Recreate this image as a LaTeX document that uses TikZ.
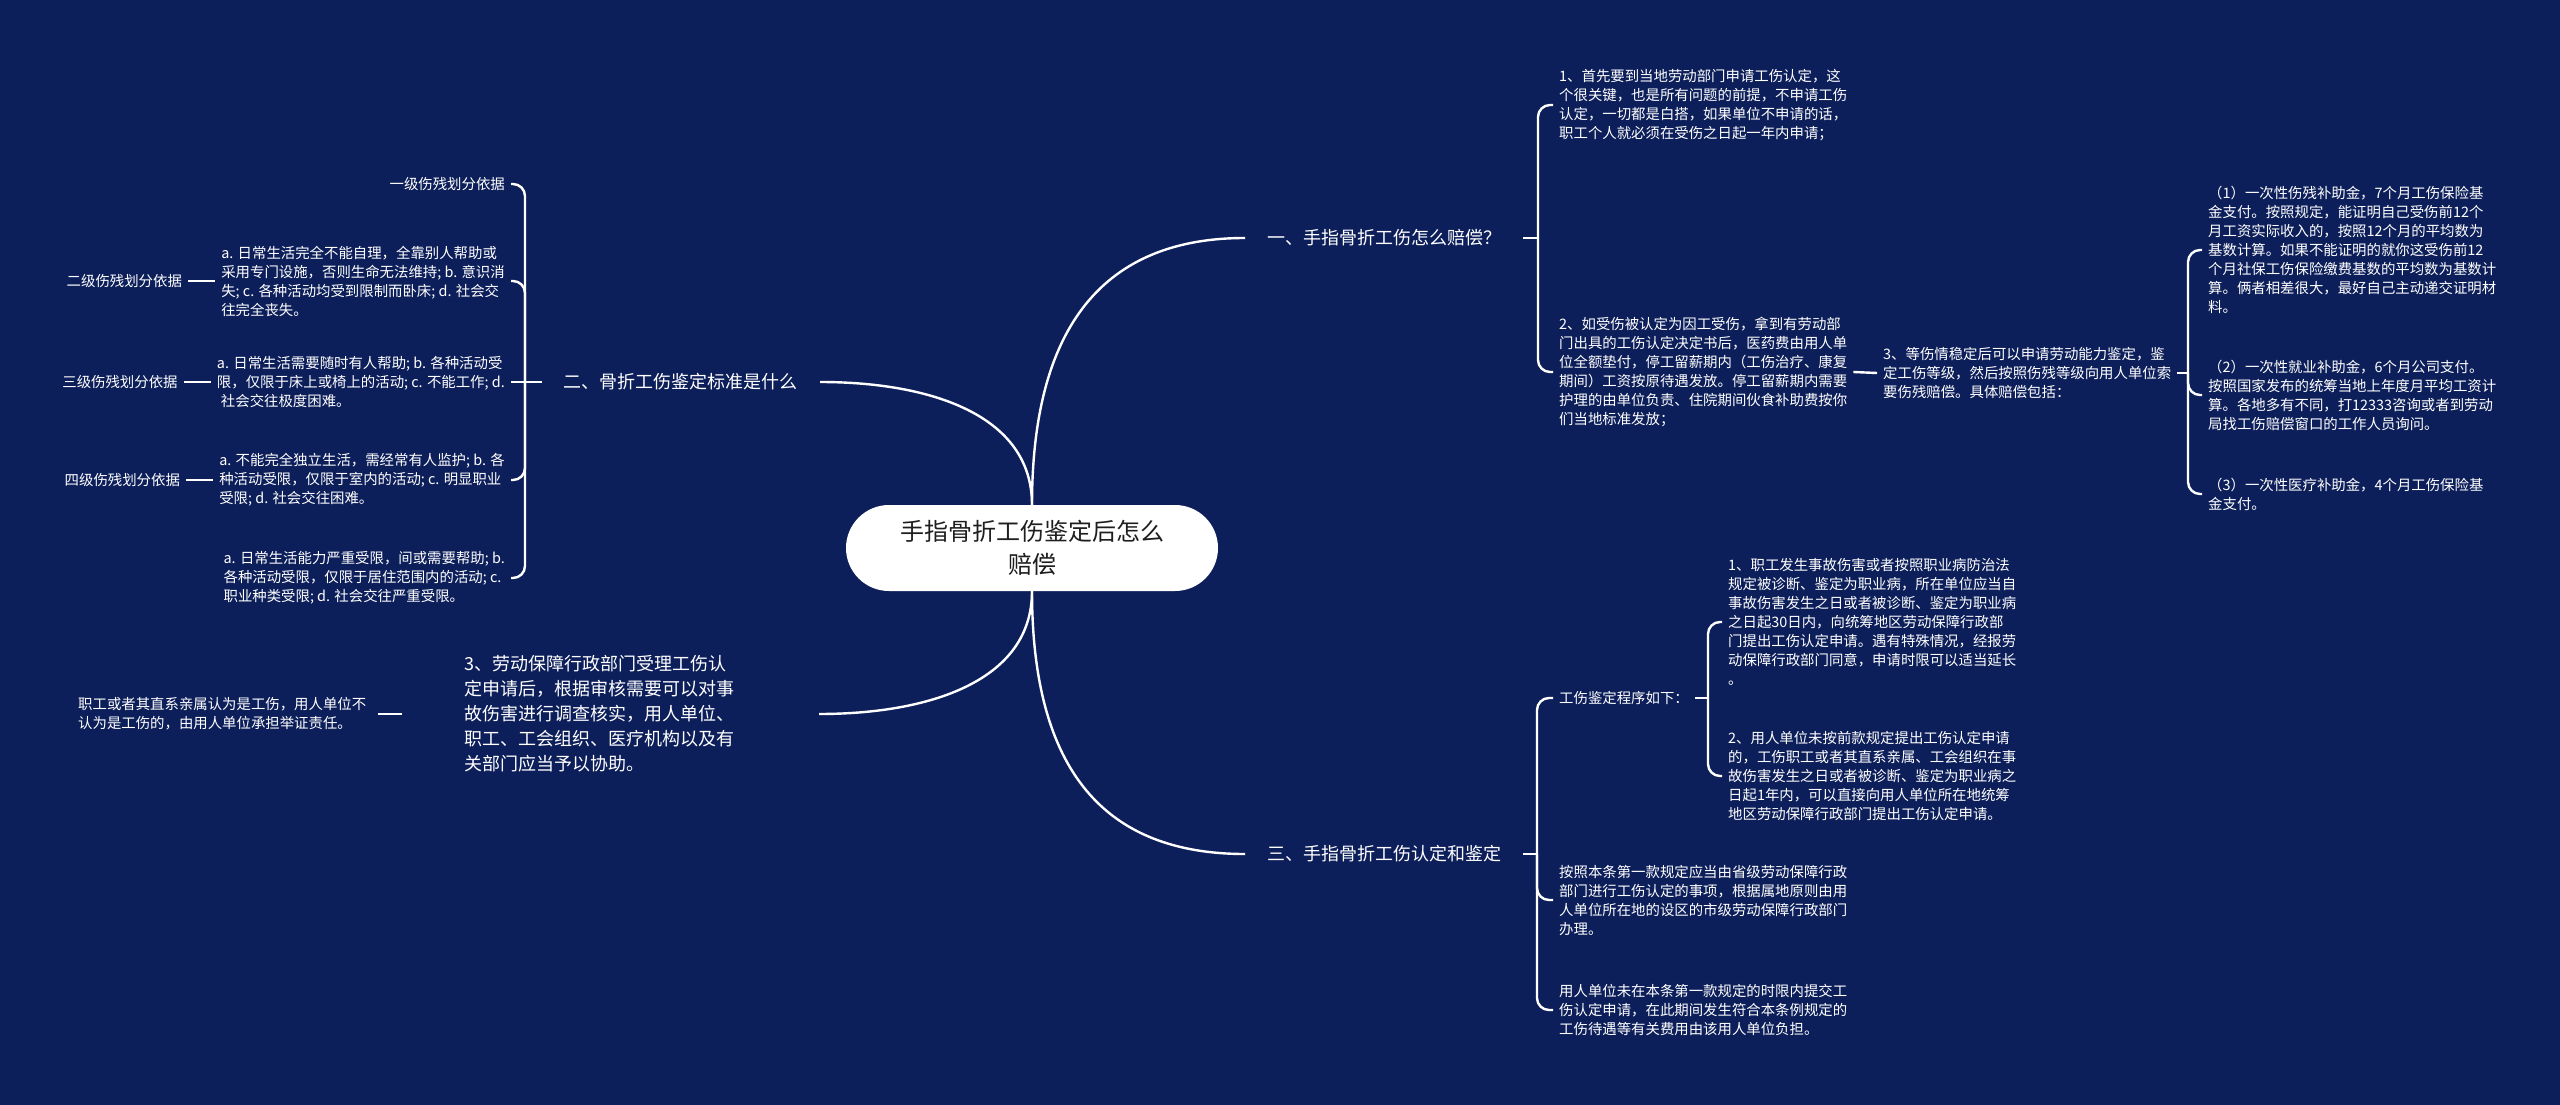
\documentclass[tikz,border=0pt]{standalone}
\usepackage{fontspec}
\setmainfont{Noto Sans CJK SC}
\usetikzlibrary{calc}
\definecolor{bg}{RGB}{13,31,90}
\definecolor{ctext}{RGB}{30,30,30}
\begin{document}
\begin{tikzpicture}[x=1pt,y=-1pt,
  line/.style={draw=white, line width=2.4pt},
  brk/.style={draw=white, line width=2.4pt, rounded corners=12pt},
  small/.style={text=white, font=\fontsize{14.4}{19}\selectfont, align=left, inner xsep=6pt, inner ysep=2pt},
  lab/.style={text=white, font=\fontsize{18}{25}\selectfont, align=left, inner xsep=22pt, inner ysep=3pt},
  root/.style={fill=white, rounded corners=43pt, minimum width=372pt, minimum height=86pt, text=ctext, font=\fontsize{24}{33}\selectfont, align=center}
]
\fill[bg] (0,0) rectangle (2560,1105);
\useasboundingbox (0,0) rectangle (2560,1105);

% root
\node[root] (C) at (1032,548) {手指骨折工伤鉴定后怎么\\赔偿};

% level 1
\node[lab, anchor=west] (B1) at (1245,238) {一、手指骨折工伤怎么赔偿？};
\node[lab, anchor=west] (B3) at (1245,854) {三、手指骨折工伤认定和鉴定};
\node[lab, anchor=east] (B2) at (820,382) {二、骨折工伤鉴定标准是什么};
\node[lab, anchor=east, text width=332pt] (H1) at (819,714) {3、劳动保障行政部门受理工伤认\\定申请后，根据审核需要可以对事\\故伤害进行调查核实，用人单位、\\职工、工会组织、医疗机构以及有\\关部门应当予以协助。};

% branch 1 children
\node[small, anchor=west] (C11) at (1553,105) {1、首先要到当地劳动部门申请工伤认定，这\\个很关键，也是所有问题的前提，不申请工伤\\认定，一切都是白搭，如果单位不申请的话，\\职工个人就必须在受伤之日起一年内申请；};
\node[small, anchor=west] (C12) at (1553,372) {2、如受伤被认定为因工受伤，拿到有劳动部\\门出具的工伤认定决定书后，医药费由用人单\\位全额垫付，停工留薪期内（工伤治疗、康复\\期间）工资按原待遇发放。停工留薪期内需要\\护理的由单位负责、住院期间伙食补助费按你\\们当地标准发放；};
\node[small, anchor=west] (C13) at (1877,373) {3、等伤情稳定后可以申请劳动能力鉴定，鉴\\定工伤等级，然后按照伤残等级向用人单位索\\要伤残赔偿。具体赔偿包括：};
\node[small, anchor=west] (D1) at (2202,250) {（1）一次性伤残补助金，7个月工伤保险基\\金支付。按照规定，能证明自己受伤前12个\\月工资实际收入的，按照12个月的平均数为\\基数计算。如果不能证明的就你这受伤前12\\个月社保工伤保险缴费基数的平均数为基数计\\算。俩者相差很大，最好自己主动递交证明材\\料。};
\node[small, anchor=west] (D2) at (2202,395) {（2）一次性就业补助金，6个月公司支付。\\按照国家发布的统筹当地上年度月平均工资计\\算。各地多有不同，打12333咨询或者到劳动\\局找工伤赔偿窗口的工作人员询问。};
\node[small, anchor=west] (D3) at (2202,494) {（3）一次性医疗补助金，4个月工伤保险基\\金支付。};

% branch 3 children
\node[small, anchor=west] (E1) at (1553,698) {工伤鉴定程序如下：};
\node[small, anchor=west] (F1) at (1722,622) {1、职工发生事故伤害或者按照职业病防治法\\规定被诊断、鉴定为职业病，所在单位应当自\\事故伤害发生之日或者被诊断、鉴定为职业病\\之日起30日内，向统筹地区劳动保障行政部\\门提出工伤认定申请。遇有特殊情况，经报劳\\动保障行政部门同意，申请时限可以适当延长\\。};
\node[small, anchor=west] (F2) at (1722,776) {2、用人单位未按前款规定提出工伤认定申请\\的，工伤职工或者其直系亲属、工会组织在事\\故伤害发生之日或者被诊断、鉴定为职业病之\\日起1年内，可以直接向用人单位所在地统筹\\地区劳动保障行政部门提出工伤认定申请。};
\node[small, anchor=west] (E2) at (1553,900) {按照本条第一款规定应当由省级劳动保障行政\\部门进行工伤认定的事项，根据属地原则由用\\人单位所在地的设区的市级劳动保障行政部门\\办理。};
\node[small, anchor=west] (E3) at (1553,1010) {用人单位未在本条第一款规定的时限内提交工\\伤认定申请，在此期间发生符合本条例规定的\\工伤待遇等有关费用由该用人单位负担。};

% branch 2 children
\node[small, anchor=east] (G0) at (511,184) {一级伤残划分依据};
\node[small, anchor=east] (G1) at (511,281) {a. 日常生活完全不能自理，全靠别人帮助或\\采用专门设施，否则生命无法维持; b. 意识消\\失; c. 各种活动均受到限制而卧床; d. 社会交\\往完全丧失。};
\node[small, anchor=east] (G2) at (511,382) {a. 日常生活需要随时有人帮助; b. 各种活动受\\限，仅限于床上或椅上的活动; c. 不能工作; d.\\\hspace{4pt}社会交往极度困难。};
\node[small, anchor=east] (G3) at (511,480) {a. 不能完全独立生活，需经常有人监护; b. 各\\种活动受限，仅限于室内的活动; c. 明显职业\\受限; d. 社会交往困难。};
\node[small, anchor=east] (G4) at (511,578) {a. 日常生活能力严重受限，间或需要帮助; b.\\各种活动受限，仅限于居住范围内的活动; c.\\职业种类受限; d. 社会交往严重受限。};
\node[small, anchor=east] (L1) at ($(G1.west)+(-27,0)$) {二级伤残划分依据};
\node[small, anchor=east] (L2) at ($(G2.west)+(-27,0)$) {三级伤残划分依据};
\node[small, anchor=east] (L3) at ($(G3.west)+(-27,0)$) {四级伤残划分依据};

% branch 4 child
\node[small, anchor=west, inner xsep=12pt] (H0) at (66,714) {职工或者其直系亲属认为是工伤，用人单位不\\认为是工伤的，由用人单位承担举证责任。};

% root connectors
\draw[line] (C.north) .. controls +(0,-180) and +(-140,0) .. (B1.west);
\draw[line] (C.north) .. controls +(0,-90) and +(110,0) .. (B2.east);
\draw[line] (C.south) .. controls +(0,90) and +(110,0) .. (H1.east);
\draw[line] (C.south) .. controls +(0,180) and +(-140,0) .. (B3.west);

% branch 1 brackets
\coordinate (K1) at (1538,238);
\draw[line] (B1.east) -- (K1);
\draw[brk] (K1) |- (C11.west);
\draw[brk] (K1) |- (C12.west);
\draw[line] (C12.east) -- (C13.west);
\coordinate (K13) at (2188,373);
\draw[line] (C13.east) -- (K13);
\draw[brk] (K13) |- (D1.west);
\draw[brk] (K13) |- (D2.west);
\draw[brk] (K13) |- (D3.west);

% branch 3 brackets
\coordinate (K3) at (1537,854);
\draw[line] (B3.east) -- (K3);
\draw[brk] (K3) |- (E1.west);
\draw[brk] (K3) |- (E2.west);
\draw[brk] (K3) |- (E3.west);
\coordinate (K31) at (1708,698);
\draw[line] (E1.east) -- (K31);
\draw[brk] (K31) |- (F1.west);
\draw[brk] (K31) |- (F2.west);

% branch 2 brackets
\coordinate (K2) at (525,382);
\draw[line] (B2.west) -- (K2);
\draw[brk] (K2) |- (G0.east);
\draw[brk] (K2) |- (G1.east);
\draw[line] (K2) -- (G2.east);
\draw[brk] (K2) |- (G3.east);
\draw[brk] (K2) |- (G4.east);
\draw[line] (L1.east) -- (G1.west);
\draw[line] (L2.east) -- (G2.west);
\draw[line] (L3.east) -- (G3.west);

% branch 4
\draw[line] (H0.east) -- ++(24,0) coordinate (H0end);
\end{tikzpicture}
\end{document}
